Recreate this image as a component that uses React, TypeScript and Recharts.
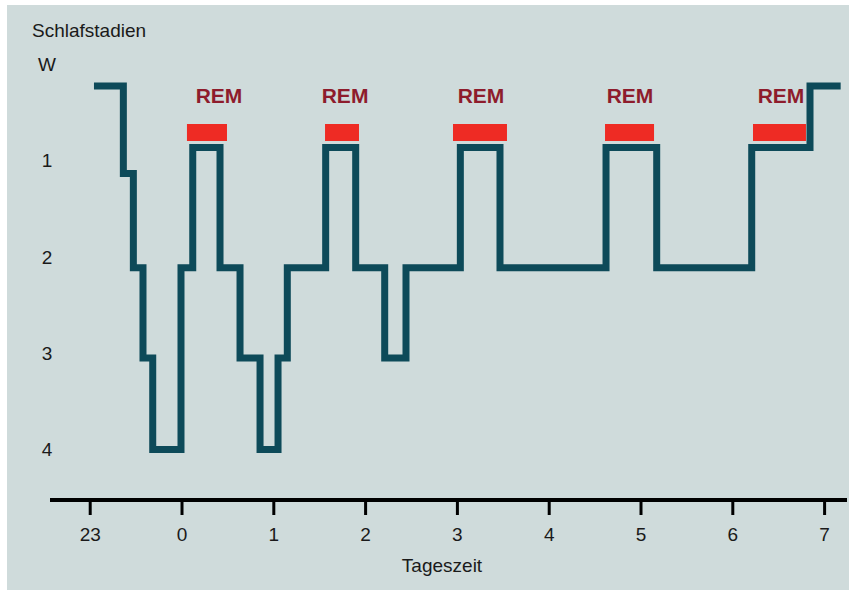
import React from "react";
import {
  ComposedChart,
  Line,
  XAxis,
  YAxis,
  ReferenceArea,
  ReferenceDot,
} from "recharts";

// Hypnogram: time in hours relative to midnight (23 h = -1)
const times = [
  -0.959, -0.639, -0.53, -0.425, -0.319, -0.011, 0.117, 0.414, 0.632, 0.85,
  1.046, 1.147, 1.565, 1.892, 2.208, 2.44, 3.032, 3.464, 4.619, 5.171, 6.206,
  6.841, 7.175,
];
const stages = [
  "W", "1", "2", "3", "4", "2", "REM", "2", "3", "4",
  "3", "2", "REM", "2", "3", "2", "REM", "2", "REM", "2", "REM",
  "W", "W",
];
// vertical level of each stage (W at top, 4 at bottom)
const stageLevel: Record<string, number> = {
  W: 0.22,
  REM: 0.86,
  "1": 1.13,
  "2": 2.11,
  "3": 3.05,
  "4": 4.0,
};

// REM periods (red bars)
const remStart = [0.054, 1.558, 2.952, 4.608, 6.22];
const remEnd = [0.49, 1.928, 3.54, 5.142, 6.797];
const remLabelX = [0.403, 1.776, 3.257, 4.88, 6.525];

const xTicks = [-1, 0, 1, 2, 3, 4, 5, 6, 7];
const yTicks = [0, 1, 2, 3, 4];
const yTickLabels = ["W", "1", "2", "3", "4"];

const data = times.map((t, i) => ({ t, level: stageLevel[stages[i]] }));

const FONT = "'Liberation Sans', Arial, Helvetica, sans-serif";
const BG = "#cfdbdb";
const LINE = "#0d4a59";
const RED = "#ee2b24";
const REMTEXT = "#8e1c2c";

const YTick = (props: any) => {
  const { y, payload } = props;
  const idx = yTicks.indexOf(payload.value);
  return (
    <text
      x={47}
      y={y}
      textAnchor="middle"
      dominantBaseline="central"
      fontSize={19}
      fontFamily={FONT}
      fill="#1a1a1a"
    >
      {idx >= 0 ? yTickLabels[idx] : payload.value}
    </text>
  );
};

export default function App() {
  return (
    <div
      style={{
        position: "absolute",
        left: 0,
        top: 0,
        width: 849,
        height: 590,
        background: "#ffffff",
        overflow: "hidden",
      }}
    >
      <div
        style={{
          position: "absolute",
          left: 7,
          top: 5,
          width: 842,
          height: 585,
          background: BG,
        }}
      />
      <div style={{ position: "absolute", left: 0, top: 0 }}>
        <ComposedChart
          width={849}
          height={590}
          data={data}
          margin={{ top: 10, right: 2, bottom: 0, left: 0 }}
        >
          <XAxis
            dataKey="t"
            type="number"
            domain={[-1.438, 7.244]}
            allowDataOverflow
            ticks={xTicks}
            interval={0}
            tickFormatter={(v: number) => (v < 0 ? String(24 + v) : String(v))}
            height={90}
            axisLine={{ stroke: "#000", strokeWidth: 4 }}
            tickLine={{ stroke: "#000", strokeWidth: 3 }}
            tickSize={15}
            tickMargin={13}
            tick={{ fontSize: 19, fontFamily: FONT, fill: "#1a1a1a" }}
          />
          <YAxis
            type="number"
            domain={[-0.569, 4.525]}
            allowDataOverflow
            reversed
            ticks={yTicks}
            interval={0}
            width={50}
            axisLine={false}
            tickLine={false}
            tick={<YTick />}
          />
          {remStart.map((s, i) => (
            <ReferenceArea
              key={"rem" + i}
              x1={s}
              x2={remEnd[i]}
              y1={0.616}
              y2={0.793}
              fill={RED}
              fillOpacity={1}
              stroke="none"
              ifOverflow="visible"
            />
          ))}
          {remLabelX.map((x, i) => (
            <ReferenceDot
              key={"remlbl" + i}
              x={x}
              y={0.32}
              r={0}
              fill="none"
              stroke="none"
              ifOverflow="visible"
              label={{
                value: "REM",
                position: "center",
                fill: REMTEXT,
                fontSize: 21,
                fontWeight: 700,
                fontFamily: FONT,
              }}
            />
          ))}
          <Line
            type="stepAfter"
            dataKey="level"
            stroke={LINE}
            strokeWidth={7}
            strokeLinejoin="miter"
            strokeLinecap="butt"
            dot={false}
            activeDot={false}
            isAnimationActive={false}
          />
        </ComposedChart>
      </div>
      <svg
        width={849}
        height={590}
        style={{ position: "absolute", left: 0, top: 0, pointerEvents: "none" }}
      >
        <text x={32} y={37} fontSize={19} fontFamily={FONT} fill="#1a1a1a">
          Schlafstadien
        </text>
        <text
          x={442}
          y={572}
          textAnchor="middle"
          fontSize={19}
          fontFamily={FONT}
          fill="#1a1a1a"
        >
          Tageszeit
        </text>
      </svg>
    </div>
  );
}
